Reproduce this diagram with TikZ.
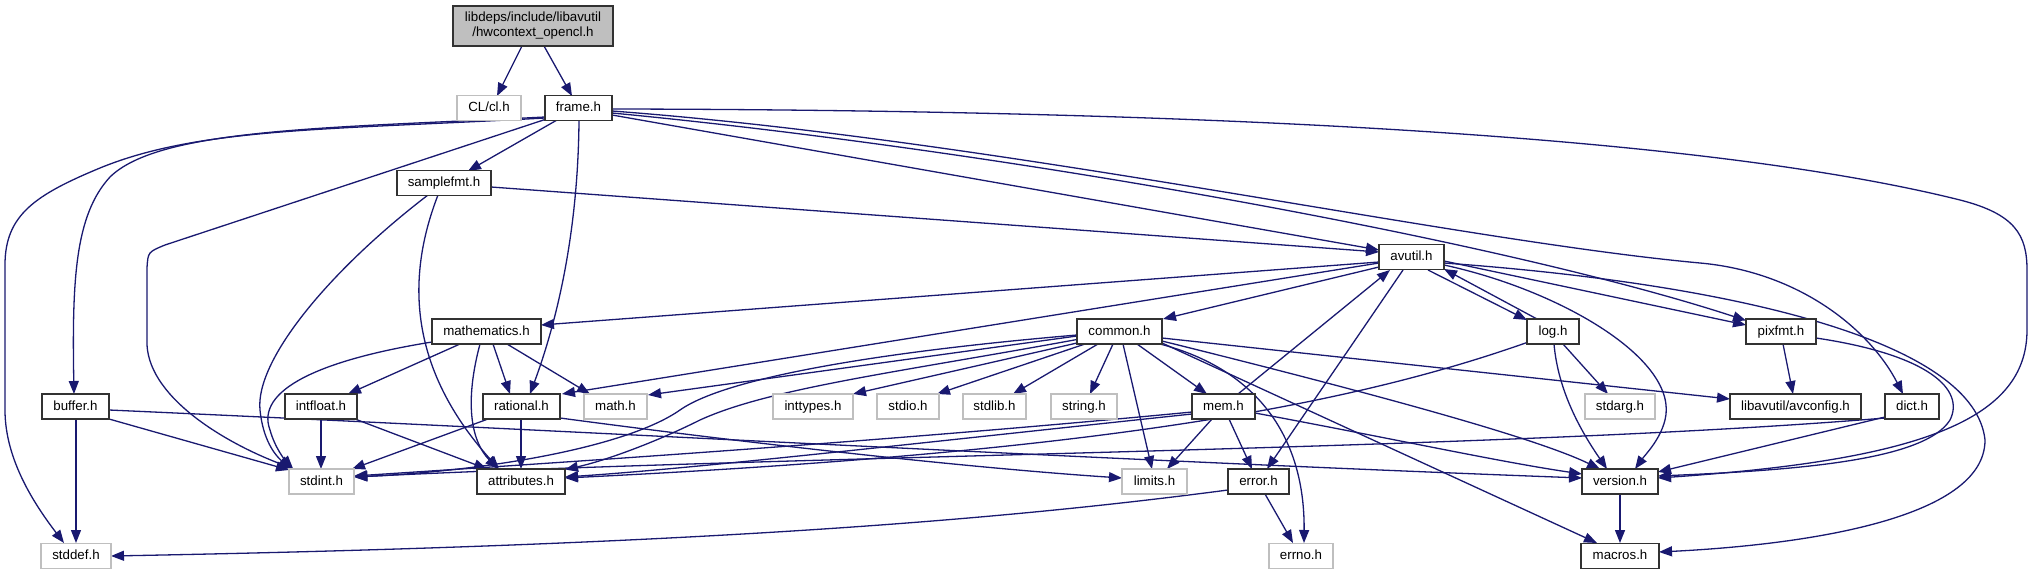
\documentclass[tikz,border=0pt]{standalone}
\usepackage{fontspec}
\setmainfont{Liberation Sans}
\usetikzlibrary{arrows.meta,calc}
\definecolor{edgeblue}{RGB}{25,25,112}
\definecolor{sysgray}{RGB}{191,191,191}
\definecolor{nodeline}{RGB}{50,50,50}
\pgfdeclarelayer{bg}
\pgfsetlayers{bg,main}
\begin{document}
\begin{tikzpicture}[x=1pt,y=-1pt,
  hdr/.style={draw=nodeline, line width=1.3pt, fill=white, minimum height=25pt, inner sep=0pt,
    text height=9.8pt, text depth=2.8pt, font=\fontsize{13.3}{15}\selectfont},
  sys/.style={hdr, draw=sysgray},
  dep/.style={draw=edgeblue, line width=1.3pt, -{Triangle[length=13pt,width=10pt]}}]
\useasboundingbox (0,0) rectangle (2032,575);
% nodes
\node[hdr, fill=sysgray, minimum width=160pt, minimum height=40pt, align=center, text height=, text depth=] (root) at (533,26) {libdeps/include/libavutil\\/hwcontext\_opencl.h};
\node[sys, minimum width=64pt] (cl) at (489,108) {CL/cl.h};
\node[hdr, minimum width=67pt] (frame) at (578.5,108) {frame.h};
\node[hdr, minimum width=94pt] (samplefmt) at (444,183) {samplefmt.h};
\node[hdr, minimum width=65pt] (avutil) at (1411.5,257) {avutil.h};
\node[hdr, minimum width=109pt] (mathematics) at (486.5,331.5) {mathematics.h};
\node[hdr, minimum width=85pt] (common) at (1119.5,331.5) {common.h};
\node[hdr, minimum width=52pt] (log) at (1553,331.5) {log.h};
\node[hdr, minimum width=70pt] (pixfmt) at (1781,331.5) {pixfmt.h};
\node[hdr, minimum width=67pt] (buffer) at (75.5,406.5) {buffer.h};
\node[hdr, minimum width=72pt] (intfloat) at (321,406.5) {intfloat.h};
\node[hdr, minimum width=77pt] (rational) at (521.5,406.5) {rational.h};
\node[sys, minimum width=63pt] (math) at (615.5,406.5) {math.h};
\node[sys, minimum width=80pt] (inttypes) at (813,406.5) {inttypes.h};
\node[sys, minimum width=62pt] (stdio) at (908,406.5) {stdio.h};
\node[sys, minimum width=63pt] (stdlib) at (994.5,406.5) {stdlib.h};
\node[sys, minimum width=66pt] (string) at (1084,406.5) {string.h};
\node[hdr, minimum width=63pt] (mem) at (1223.5,406.5) {mem.h};
\node[sys, minimum width=70pt] (stdarg) at (1620,406.5) {stdarg.h};
\node[hdr, minimum width=131pt] (avconfig) at (1795.5,406.5) {libavutil/avconfig.h};
\node[hdr, minimum width=54pt] (dict) at (1912,406.5) {dict.h};
\node[sys, minimum width=65pt] (stdint) at (321.5,481.5) {stdint.h};
\node[hdr, minimum width=88pt] (attributes) at (521,481.5) {attributes.h};
\node[sys, minimum width=65pt] (limits) at (1154.5,481.5) {limits.h};
\node[hdr, minimum width=61pt] (error) at (1258.5,481.5) {error.h};
\node[hdr, minimum width=76pt] (version) at (1620,481.5) {version.h};
\node[sys, minimum width=70pt] (stddef) at (76,556) {stddef.h};
\node[sys, minimum width=64pt] (errno) at (1301,556) {errno.h};
\node[hdr, minimum width=78pt] (macros) at (1620,556) {macros.h};
% edges
\begin{pgfonlayer}{bg}
\draw[dep] ($(root)+(-11,20)$) -- ($(cl)+(8,-12)$);
\draw[dep] ($(root)+(11,20)$) -- ($(frame)+(-6.5,-12)$);
% frame
\draw[dep] ($(frame)+(-21.5,12)$) -- ($(samplefmt)+(24,-12)$);
\draw[dep] ($(frame)+(-33.5,9)$) .. controls (330,128) and (160,128) .. (110,177) .. controls (75,215) and (72,280) .. ($(buffer)+(-1.5,-12.5)$);
\draw[dep] ($(frame)+(-33.5,10)$) .. controls (330,130) and (200,127) .. (100,168) .. controls (35,195) and (5,215) .. (5,265) -- (5,410) .. controls (5,460) and (35,505) .. ($(stddef)+(-12,-13)$);
\draw[dep] ($(frame)+(-33.5,11.5)$) -- (165,245) .. controls (148,252) .. (147,268) -- (147,345) .. controls (150,400) and (230,445) .. ($(stdint)+(-28.5,-13)$);
\draw[dep] ($(frame)+(0.5,12)$) .. controls (578,250) and (550,340) .. ($(rational)+(8.5,-12.5)$);
\draw[dep] ($(frame)+(33.5,7)$) -- ($(avutil)+(-32.5,-7)$);
\draw[dep] ($(frame)+(33.5,5)$) .. controls (1000,150) and (1500,240) .. ($(pixfmt)+(-35,-11)$);
\draw[dep] ($(frame)+(33.5,3)$) .. controls (1000,140) and (1450,240) .. (1700,263) .. controls (1800,272) and (1870,330) .. ($(dict)+(-9,-12.5)$);
\draw[dep] ($(frame)+(33.5,1)$) .. controls (1200,110) and (1700,135) .. (1960,200) .. controls (2015,214) and (2027,235) .. (2027,270) -- (2027,330) .. controls (2027,420) and (1920,460) .. ($(version)+(38,-3.5)$);
% samplefmt
\draw[dep] ($(samplefmt)+(47,4)$) -- ($(avutil)+(-32.5,-5)$);
\draw[dep] ($(samplefmt)+(-6,12)$) .. controls (405,280) and (410,370) .. ($(attributes)+(-22,-12.5)$);
\draw[dep] ($(samplefmt)+(-16,12)$) .. controls (330,270) and (255,360) .. (260,410) .. controls (263,440) and (275,455) .. ($(stdint)+(-30.5,-12.5)$);
% avutil
\draw[dep] ($(avutil)+(-32.5,10)$) -- ($(common)+(43.5,-12.5)$);
\draw[dep] ($(avutil)+(-32.5,5)$) -- ($(mathematics)+(54.5,-6.5)$);
\draw[dep] ($(avutil)+(-32.5,6)$) -- ($(rational)+(40.5,-12.5)$);
\draw[dep] ($(avutil)+(-8.5,13)$) -- ($(error)+(8.5,-12.5)$);
\draw[dep] ($(avutil)+(32.5,8)$) .. controls (1560,290) and (1680,360) .. (1665,420) .. controls (1660,440) and (1645,455) .. ($(version)+(15,-12.5)$);
\draw[dep] ($(avutil)+(32.5,6)$) .. controls (1750,285) and (1975,345) .. (1985,440) .. controls (1985,520) and (1800,545) .. ($(macros)+(39,-4)$);
\draw[dep] ($(avutil)+(16.5,13)$) -- ($(log)+(-26,-11.5)$);
\draw[dep] ($(avutil)+(32.5,4)$) -- ($(pixfmt)+(-35,-6.5)$);
% log
\draw[dep] ($(log)+(-16,-12.5)$) -- ($(avutil)+(32.5,12)$);
\draw[dep] ($(log)+(10,12.5)$) -- ($(stdarg)+(-12,-12.5)$);
\draw[dep] ($(log)+(1,12.5)$) .. controls (1558,390) and (1580,430) .. ($(version)+(-13,-12.5)$);
\draw[dep] ($(log)+(-26,11)$) .. controls (1350,405) and (1100,452) .. ($(attributes)+(44,-3.5)$);
% common
\draw[dep] ($(common)+(40.5,12.5)$) .. controls (1260,370) and (1305,440) .. ($(errno)+(3,-13)$);
\draw[dep] ($(common)+(-42.5,11.5)$) -- ($(inttypes)+(40,-12.5)$);
\draw[dep] ($(common)+(-34.5,12.5)$) -- ($(stdio)+(29,-12.5)$);
\draw[dep] ($(common)+(-21.5,12.5)$) -- ($(stdlib)+(18.5,-12.5)$);
\draw[dep] ($(common)+(-6.5,12.5)$) -- ($(string)+(6,-12.5)$);
\draw[dep] ($(common)+(3.5,12.5)$) -- ($(limits)+(-2.5,-12.5)$);
\draw[dep] ($(common)+(17.5,12.5)$) -- ($(mem)+(-16.5,-12.5)$);
\draw[dep] ($(common)+(42.5,6.5)$) -- ($(avconfig)+(-65.5,-7.5)$);
\draw[dep] ($(common)+(42.5,9.5)$) .. controls (1400,400) and (1540,440) .. ($(version)+(-20,-12.5)$);
\draw[dep] ($(common)+(42.5,11.5)$) -- ($(macros)+(-23,-13)$);
\draw[dep] ($(common)+(-42.5,4.5)$) -- ($(math)+(32.5,-11.5)$);
\draw[dep] ($(common)+(-42.5,3.5)$) .. controls (900,350) and (730,375) .. (680,410) .. controls (630,445) and (500,470) .. ($(stdint)+(33,-4.5)$);
\draw[dep] ($(common)+(-42.5,8)$) .. controls (900,372) and (770,388) .. (700,420) .. controls (650,445) and (600,462) .. ($(attributes)+(44,-12)$);
% mathematics
\draw[dep] ($(mathematics)+(-54.5,10.5)$) .. controls (320,360) and (255,390) .. (270,430) .. controls (275,448) and (285,460) .. ($(stdint)+(-28.5,-13)$);
\draw[dep] ($(mathematics)+(-26.5,12.5)$) -- ($(intfloat)+(27,-12.5)$);
\draw[dep] ($(mathematics)+(-6.5,12.5)$) .. controls (465,400) and (470,440) .. ($(attributes)+(-23,-12.5)$);
\draw[dep] ($(mathematics)+(6.5,12.5)$) -- ($(rational)+(-11.5,-12.5)$);
\draw[dep] ($(mathematics)+(20.5,12.5)$) -- ($(math)+(-25.5,-12.5)$);
% intfloat, rational
\draw[dep] ($(intfloat)+(0,12.5)$) -- ($(stdint)+(-0.5,-12.5)$);
\draw[dep] ($(intfloat)+(34,12.5)$) -- ($(attributes)+(-34,-12.5)$);
\draw[dep] ($(rational)+(-33.5,12.5)$) -- ($(stdint)+(30.5,-12.5)$);
\draw[dep] ($(rational)+(-0.5,12.5)$) -- ($(attributes)+(0,-12.5)$);
\draw[dep] ($(rational)+(38.5,11.5)$) .. controls (800,450) and (1000,470) .. ($(limits)+(-32.5,-3.5)$);
% mem
\draw[dep] ($(mem)+(-11.5,12.5)$) -- ($(limits)+(12.5,-12.5)$);
\draw[dep] ($(mem)+(5.5,12.5)$) -- ($(error)+(-6.5,-12.5)$);
\draw[dep] ($(mem)+(14.5,-12.5)$) -- ($(avutil)+(-21.5,13)$);
\draw[dep] ($(mem)+(31.5,6.5)$) .. controls (1400,440) and (1500,462) .. ($(version)+(-38,-7.5)$);
\draw[dep] ($(mem)+(-31.5,5.5)$) .. controls (900,440) and (600,460) .. ($(stdint)+(32.5,-5.5)$);
\draw[dep] ($(mem)+(-31.5,7.5)$) .. controls (900,445) and (700,468) .. ($(attributes)+(44,-4.5)$);
% error
\draw[dep] ($(error)+(6.5,12.5)$) -- ($(errno)+(-8,-13)$);
\draw[dep] ($(error)+(-30.5,8.5)$) .. controls (1000,520) and (700,545) .. ($(stddef)+(35,0)$);
% pixfmt, dict
\draw[dep] ($(pixfmt)+(2,12.5)$) -- ($(avconfig)+(-2.5,-12.5)$);
\draw[dep] ($(pixfmt)+(35,6.5)$) .. controls (1930,355) and (1965,390) .. (1950,420) .. controls (1925,460) and (1800,470) .. ($(version)+(38,-5.5)$);
\draw[dep] ($(dict)+(-27,10.5)$) -- ($(version)+(38,-9.5)$);
\draw[dep] ($(dict)+(-27,11.5)$) .. controls (1500,450) and (800,455) .. ($(stdint)+(32.5,-4.5)$);
% buffer
\draw[dep] ($(buffer)+(33.5,12.5)$) -- ($(stdint)+(-32.5,-11.5)$);
\draw[dep] ($(buffer)+(0.5,12.5)$) -- ($(stddef)+(0,-13)$);
\draw[dep] ($(buffer)+(33.5,3.5)$) .. controls (600,432) and (1100,460) .. ($(version)+(-38,-3.5)$);
% version
\draw[dep] ($(version)+(0,12.5)$) -- ($(macros)+(0,-13)$);
\end{pgfonlayer}
\end{tikzpicture}
\end{document}
